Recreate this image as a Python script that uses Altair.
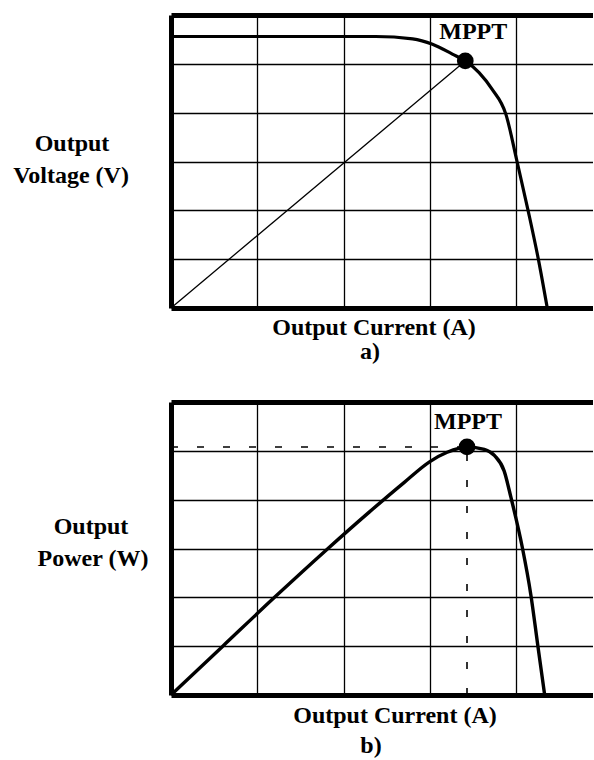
import altair as alt
import pandas as pd

# ---- panel a): output voltage vs output current (grid units) ----
current_iv = [0.0, 1.0, 2.0, 2.37, 2.80, 3.03, 3.26, 3.41, 3.57, 3.72, 3.88, 4.01, 4.14, 4.26, 4.36]
voltage_iv = [5.56, 5.56, 5.56, 5.56, 5.51, 5.40, 5.20, 5.06, 4.82, 4.48, 3.97, 3.00, 1.98, 0.97, 0.0]
mppt_current_a = [3.41]
mppt_voltage = [5.06]

# ---- panel b): output power vs output current (grid units) ----
current_pi = [0.0, 0.6, 1.2, 1.8, 2.3, 2.7, 3.0, 3.2, 3.43, 3.63, 3.75, 3.86, 3.94, 4.07, 4.17, 4.25, 4.33]
power_pi = [0.0, 1.0, 2.0, 2.97, 3.75, 4.35, 4.78, 4.97, 5.08, 5.03, 4.90, 4.59, 4.04, 3.03, 2.05, 1.02, 0.0]
mppt_current_b = [3.43]
mppt_power = [5.08]

# grid divisions
x_grid = [0, 1, 2, 3, 4]
y_grid = [0, 1, 2, 3, 4, 5, 6]
X_MAX = 4.89
Y_MAX = 6

PLOT_W = 422
PLOT_H = 293
FONT = "Liberation Serif"
FS = 24

x_axis = alt.Axis(
    values=x_grid, grid=True, gridColor="black", gridOpacity=1,
    gridWidth={"condition": {"test": "datum.value == 0", "value": 5}, "value": 1.3},
    labels=False, ticks=False, domain=False, title=None,
)
y_axis = alt.Axis(
    values=y_grid, grid=True, gridColor="black", gridOpacity=1,
    gridWidth={"condition": {"test": "datum.value == 0 || datum.value == 6", "value": 5}, "value": 1.3},
    labels=False, ticks=False, domain=False, title=None,
)
x_scale = alt.Scale(domain=[0, X_MAX], nice=False, zero=False)
y_scale = alt.Scale(domain=[0, Y_MAX], nice=False, zero=False)


def X(field):
    return alt.X(f"{field}:Q", scale=x_scale, axis=x_axis)


def Y(field):
    return alt.Y(f"{field}:Q", scale=y_scale, axis=y_axis)


def label(text, px, py):
    return alt.Chart(pd.DataFrame({"t": [text]})).mark_text(
        font=FONT, fontSize=FS, fontWeight="bold", color="black",
        align="center", baseline="middle",
    ).encode(text="t:N", x=alt.value(px), y=alt.value(py))


# ---------------- panel a) ----------------
iv = pd.DataFrame({"current": current_iv, "value": voltage_iv})
mp_a = pd.DataFrame({"current": mppt_current_a, "value": mppt_voltage})
diag = pd.DataFrame({"current": [0.0, mppt_current_a[0]], "value": [0.0, mppt_voltage[0]]})

curve_a = alt.Chart(iv).mark_line(color="black", strokeWidth=3.2, interpolate="monotone").encode(
    x=X("current"), y=Y("value"))
diag_a = alt.Chart(diag).mark_line(color="black", strokeWidth=1.3).encode(x=X("current"), y=Y("value"))
dot_a = alt.Chart(mp_a).mark_circle(size=280, color="black", opacity=1).encode(x=X("current"), y=Y("value"))
mppt_a = alt.Chart(mp_a).mark_text(
    text="MPPT", font=FONT, fontSize=FS, fontWeight="bold", color="black",
    align="center", baseline="middle", dx=8, dy=-29,
).encode(x=X("current"), y=Y("value"))

panel_a = alt.layer(
    curve_a, diag_a, dot_a, mppt_a,
    label("Output", -99, 128.5),
    label("Voltage (V)", -100, 160.5),
    label("Output Current (A)", 203, 312.5),
    label("a)", 199, 337),
).properties(width=PLOT_W, height=PLOT_H)

# ---------------- panel b) ----------------
pi = pd.DataFrame({"current": current_pi, "value": power_pi})
mp_b = pd.DataFrame({"current": mppt_current_b, "value": mppt_power})
h_dash = pd.DataFrame({"current": [0.0, mppt_current_b[0]], "value": [mppt_power[0], mppt_power[0]]})
v_dash = pd.DataFrame({"current": [mppt_current_b[0], mppt_current_b[0]], "value": [0.0, mppt_power[0]]})

curve_b = alt.Chart(pi).mark_line(color="black", strokeWidth=3.4, interpolate="monotone").encode(
    x=X("current"), y=Y("value"))
hd_b = alt.Chart(h_dash).mark_line(color="black", strokeWidth=1.6, strokeDash=[7, 19]).encode(
    x=X("current"), y=Y("value"))
vd_b = alt.Chart(v_dash).mark_line(color="black", strokeWidth=1.6, strokeDash=[7, 19]).encode(
    x=X("current"), y=Y("value"))
dot_b = alt.Chart(mp_b).mark_circle(size=280, color="black", opacity=1).encode(x=X("current"), y=Y("value"))
mppt_b = alt.Chart(mp_b).mark_text(
    text="MPPT", font=FONT, fontSize=FS, fontWeight="bold", color="black",
    align="center", baseline="middle", dx=1, dy=-25,
).encode(x=X("current"), y=Y("value"))

panel_b = alt.layer(
    hd_b, vd_b, curve_b, dot_b, mppt_b,
    label("Output", -80, 124.5),
    label("Power (W)", -78, 156.5),
    label("Output Current (A)", 224, 313.5),
    label("b)", 200, 343.5),
).properties(width=PLOT_W, height=PLOT_H)

chart = (
    alt.vconcat(panel_a, panel_b, spacing=94, bounds="flush")
    .configure_view(stroke=None)
    .properties(
        padding={"left": 13, "top": 15, "right": 0, "bottom": 0},
        background="white",
    )
)

chart.save("out.html", embed_options={"renderer": "svg", "actions": False})
